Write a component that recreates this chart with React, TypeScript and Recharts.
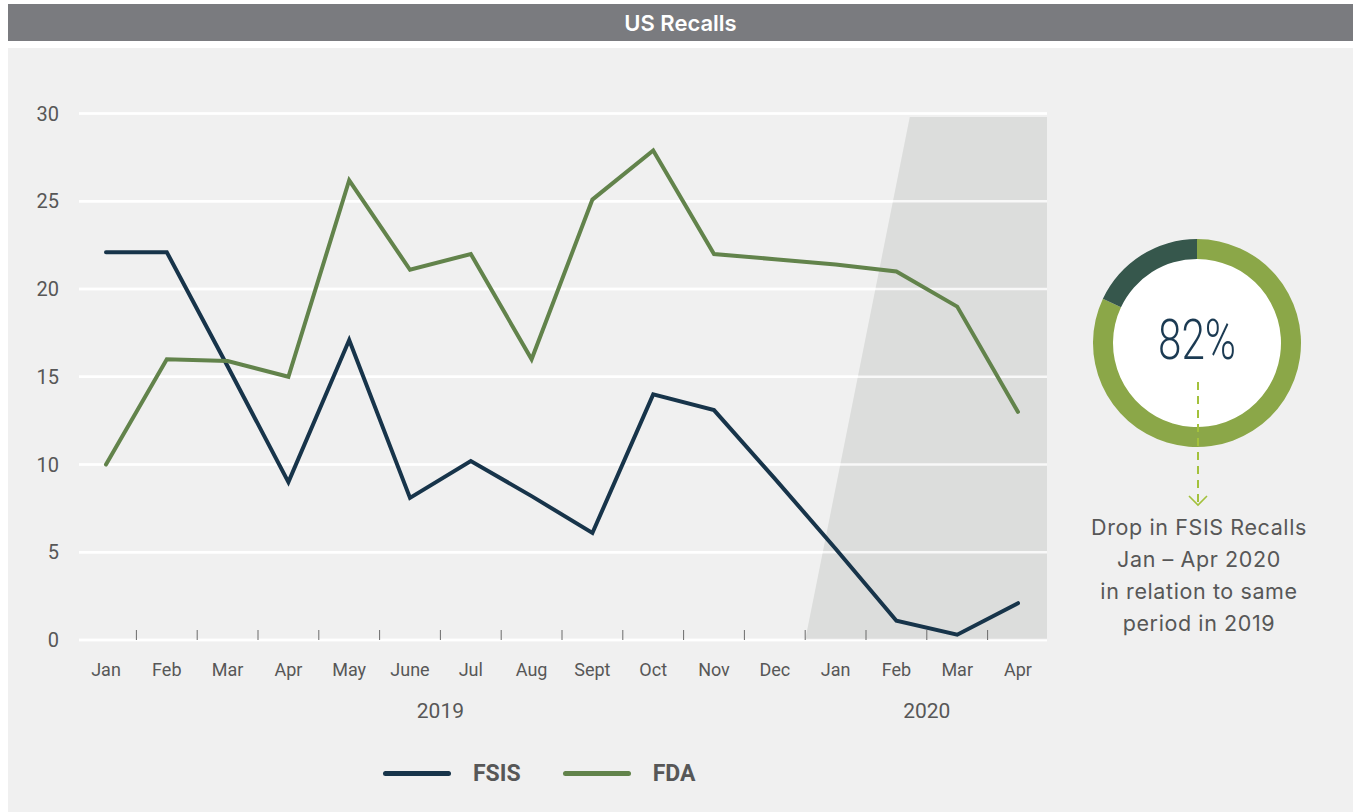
import React from 'react';
import { LineChart, Line, XAxis, YAxis, CartesianGrid, ReferenceArea, ReferenceLine, PieChart, Pie, Cell } from 'recharts';

const monthKeys = [
  '2019-01', '2019-02', '2019-03', '2019-04', '2019-05', '2019-06', '2019-07', '2019-08',
  '2019-09', '2019-10', '2019-11', '2019-12', '2020-01', '2020-02', '2020-03', '2020-04',
];
const monthLabels = ['Jan', 'Feb', 'Mar', 'Apr', 'May', 'June', 'Jul', 'Aug', 'Sept', 'Oct', 'Nov', 'Dec', 'Jan', 'Feb', 'Mar', 'Apr'];
const fsisRecalls = [22.1, 22.1, 15.6, 9, 17.1, 8.1, 10.2, 8.2, 6.1, 14, 13.1, 9.2, 5.2, 1.1, 0.3, 2.1];
const fdaRecalls = [10, 16, 15.9, 15, 26.2, 21.1, 22, 16, 25.1, 27.9, 22, 21.7, 21.4, 21, 19, 13];
const yTicks = [0, 5, 10, 15, 20, 25, 30];
const years = [
  { label: '2019', first: 0, last: 11 },
  { label: '2020', first: 12, last: 15 },
];
const dropShare = [
  { name: 'Drop', value: 82 },
  { name: 'Rest', value: 18 },
];
const noteLines = ['Drop in FSIS Recalls', 'Jan – Apr 2020', 'in relation to same', 'period in 2019'];

const series = [
  { key: 'fsis', name: 'FSIS', color: '#17344a' },
  { key: 'fda', name: 'FDA', color: '#62834b' },
];

const data = monthKeys.map((m, i) => ({ month: m, fsis: fsisRecalls[i], fda: fdaRecalls[i] }));

// layout
const CHART_W = 1100;
const CHART_H = 760;
const PLOT_LEFT = 79;
const PLOT_RIGHT = 1047;
const PLOT_TOP = 113.6;
const PLOT_BOTTOM = 640;
const PAD_L = 27;
const PAD_R = 29;
const STEP = (PLOT_RIGHT - PLOT_LEFT - PAD_L - PAD_R) / (monthKeys.length - 1);

const TEXT = '#575757';
const FONT = 'Roboto, "Noto Sans", sans-serif';

const MonthTick = (props: any) => {
  const { x, payload } = props;
  const i = monthKeys.indexOf(payload.value);
  const year = years.find((g) => Math.floor((g.first + g.last) / 2) === i);
  return (
    <g>
      {i < monthKeys.length - 1 && (
        <line x1={x + STEP / 2} x2={x + STEP / 2} y1={PLOT_BOTTOM - 10} y2={PLOT_BOTTOM} stroke="#6b6b6b" strokeWidth={1} />
      )}
      <text x={x} y={676} textAnchor="middle" fontSize={18} fill={TEXT} fontFamily={FONT}>
        {monthLabels[i]}
      </text>
      {year && (
        <text
          x={x + (((year.first + year.last) / 2) - i) * STEP}
          y={718}
          textAnchor="middle"
          fontSize={21}
          fill={TEXT}
          fontFamily={FONT}
        >
          {year.label}
        </text>
      )}
    </g>
  );
};

const ShadeShape = (props: any) => {
  const { x, y, width, height } = props;
  const step = width / 4;
  const bl = x + step / 2;
  const tl = bl + 1.72 * step;
  const r = x + width + PAD_R;
  const b = y + height;
  return <polygon points={`${bl},${b} ${tl},${y} ${r},${y} ${r},${b}`} fill="#dcdddc" />;
};

export default function App() {
  return (
    <div style={{ position: 'relative', width: 1353, height: 812, overflow: 'hidden', background: '#fff', fontFamily: FONT }}>
      <style>{'body{margin:0}'}</style>
      <div
        style={{
          position: 'absolute', left: 8, top: 4, width: 1345, height: 37, background: '#7a7b7f',
          color: '#fff', fontFamily: 'Inter, sans-serif', fontWeight: 600, fontSize: 22,
          display: 'flex', alignItems: 'center', justifyContent: 'center',
        }}
      >
        <span>US Recalls</span>
      </div>
      <div style={{ position: 'absolute', left: 8, top: 48, width: 1345, height: 764, background: '#f0f0f0' }} />

      <div style={{ position: 'absolute', left: 0, top: 0 }}>
        <LineChart
          width={CHART_W}
          height={CHART_H}
          data={data}
          margin={{ top: PLOT_TOP, right: CHART_W - PLOT_RIGHT, bottom: CHART_H - PLOT_BOTTOM - 30, left: PLOT_LEFT - 60 }}
        >
          <CartesianGrid vertical={false} stroke="#ffffff" strokeWidth={2.5} />
          <ReferenceArea x1="2019-12" x2="2020-04" y1={0} y2={29.8} shape={ShadeShape} ifOverflow="visible" />
          {yTicks.map((t) => (
            <ReferenceLine key={t} y={t} stroke="#ffffff" strokeOpacity={0.8} strokeWidth={2.5} />
          ))}
          <XAxis
            dataKey="month"
            interval={0}
            height={30}
            padding={{ left: PAD_L, right: PAD_R }}
            axisLine={false}
            tickLine={false}
            tick={<MonthTick />}
          />
          <YAxis
            domain={[0, 30]}
            ticks={yTicks}
            width={60}
            axisLine={false}
            tickLine={false}
            tickSize={6}
            tickMargin={14}
            tick={{ fill: TEXT, fontSize: 20, fontFamily: FONT }}
          />
          {series.map((s) => (
            <Line
              key={s.key}
              type="linear"
              dataKey={s.key}
              name={s.name}
              stroke={s.color}
              strokeWidth={4}
              strokeLinecap="round"
              strokeLinejoin="miter"
              dot={false}
              activeDot={false}
              isAnimationActive={false}
            />
          ))}
        </LineChart>
      </div>

      <div style={{ position: 'absolute', left: 1197 - 110, top: 343 - 110 }}>
        <PieChart width={220} height={220} margin={{ top: 0, right: 0, bottom: 0, left: 0 }}>
          <Pie
            data={[{ name: 'bg', value: 1 }]}
            dataKey="value"
            cx={110}
            cy={110}
            outerRadius={85}
            innerRadius={0}
            fill="#ffffff"
            stroke="none"
            isAnimationActive={false}
          />
          <Pie
            data={dropShare}
            dataKey="value"
            cx={110}
            cy={110}
            innerRadius={84}
            outerRadius={104}
            startAngle={90}
            endAngle={-270}
            stroke="none"
            isAnimationActive={false}
          >
            <Cell fill="#8ba748" />
            <Cell fill="#36574c" />
          </Pie>
        </PieChart>
      </div>

      <svg style={{ position: 'absolute', left: 0, top: 0 }} width={1353} height={812}>
        <text
          x={1197}
          y={359}
          textAnchor="middle"
          fontSize={55}
          fontWeight={300}
          fill="#1b3a52"
          fontFamily={FONT}
          textLength={78}
          lengthAdjust="spacingAndGlyphs"
        >
          82%
        </text>
        <line x1={1198} x2={1198} y1={382} y2={503} stroke="#a3c13c" strokeWidth={2} strokeDasharray="8 6" />
        <polyline points="1189,496 1198,505 1207,496" fill="none" stroke="#a3c13c" strokeWidth={1.6} />
        {noteLines.map((t, i) => (
          <text
            key={t}
            x={1199}
            y={535 + i * 32}
            textAnchor="middle"
            fontSize={21.5}
            letterSpacing={0.6}
            fill={TEXT}
            fontFamily="Inter, sans-serif"
          >
            {t}
          </text>
        ))}
      </svg>

      <div style={{ position: 'absolute', left: 383, top: 760, display: 'flex', alignItems: 'center', height: 26 }}>
        {series.map((s) => (
          <div key={s.key} style={{ display: 'flex', alignItems: 'center', marginRight: 42 }}>
            <span style={{ display: 'inline-block', width: 68, height: 5, borderRadius: 3, background: s.color, marginRight: 22 }} />
            <span style={{ fontSize: 23, fontWeight: 700, color: TEXT, fontFamily: FONT }}>{s.name}</span>
          </div>
        ))}
      </div>
    </div>
  );
}
